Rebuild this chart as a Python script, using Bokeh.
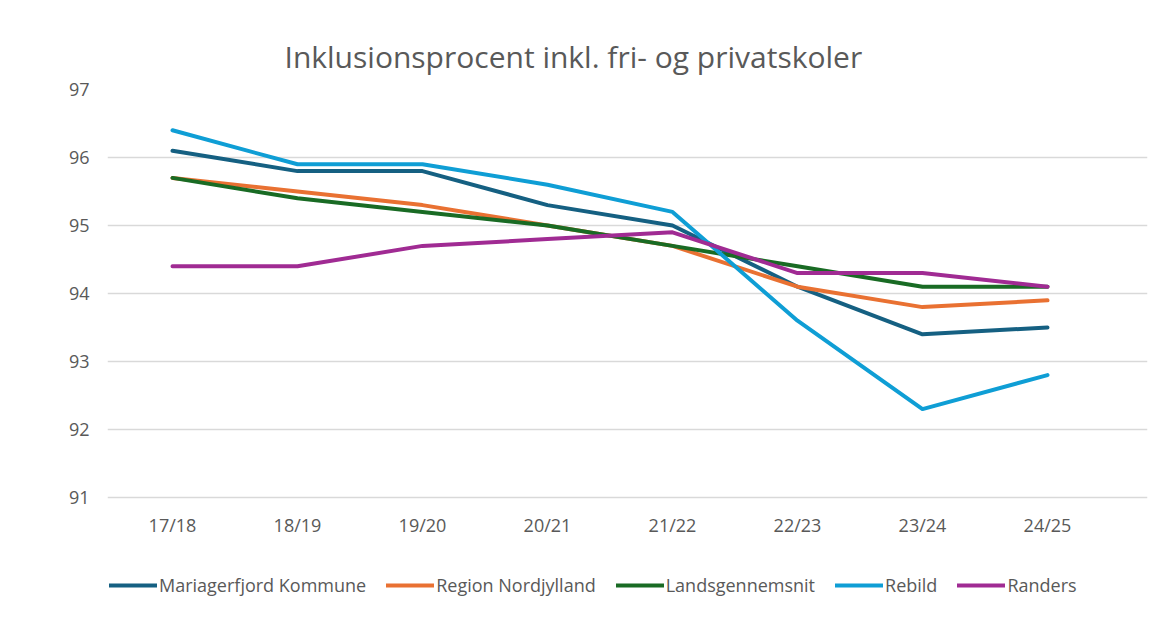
from bokeh.plotting import figure
from bokeh.models import Range1d, FixedTicker, Legend, LegendItem, Title
from bokeh.core.properties import value
from bokeh.embed import file_html
from bokeh.resources import INLINE

categories = ["17/18", "18/19", "19/20", "20/21", "21/22", "22/23", "23/24", "24/25"]
mariagerfjord = [96.1, 95.8, 95.8, 95.3, 95.0, 94.1, 93.4, 93.5]
nordjylland = [95.7, 95.5, 95.3, 95.0, 94.7, 94.1, 93.8, 93.9]
landsgennemsnit = [95.7, 95.4, 95.2, 95.0, 94.7, 94.4, 94.1, 94.1]
rebild = [96.4, 95.9, 95.9, 95.6, 95.2, 93.6, 92.3, 92.8]
randers = [94.4, 94.4, 94.7, 94.8, 94.9, 94.3, 94.3, 94.1]
y_ticks = [91, 92, 93, 94, 95, 96, 97]

series = [
    ("Mariagerfjord Kommune", mariagerfjord, "#156082"),
    ("Region Nordjylland", nordjylland, "#E97132"),
    ("Landsgennemsnit", landsgennemsnit, "#196B24"),
    ("Rebild", rebild, "#0F9ED5"),
    ("Randers", randers, "#A02B93"),
]

FONT = "Open Sans"
GREY = "#595959"

xs = list(range(len(categories)))

p = figure(frame_width=1040, frame_height=510, output_backend="svg", toolbar_location=None,
           x_range=Range1d(-0.52, 7.8), y_range=Range1d(89.5, 97),
           x_axis_location=None)
p.min_border_left = 107
p.min_border_right = 2
p.min_border_top = 89
p.min_border_bottom = 0
p.outline_line_color = None
p.background_fill_color = "white"
p.border_fill_color = "white"

p.title = Title(text="Inklusionsprocent inkl. fri- og privatskoler", align="left",
                offset=177, standoff=26,
                text_font=FONT, text_font_size="30px", text_font_style="normal",
                text_color=GREY)

items = []
for name, vals, col in series:
    r = p.line(xs, vals, line_color=col, line_width=4, line_join="round", line_cap="round")
    items.append(LegendItem(label=name, renderers=[r]))

# category labels under the plot, placed through the data scales
p.text(x=xs, y=[90.6] * len(categories), text=categories, text_align="center",
       text_baseline="middle", text_font=value(FONT), text_font_size="18px",
       text_color=GREY)

p.yaxis.ticker = FixedTicker(ticks=y_ticks)
ax = p.yaxis[0]
ax.axis_line_color = None
ax.major_tick_line_color = None
ax.minor_tick_line_color = None
ax.major_label_text_font = FONT
ax.major_label_text_font_size = "18px"
ax.major_label_text_color = GREY
ax.major_label_standoff = 12

p.xgrid.grid_line_color = None
p.ygrid.grid_line_color = "#d9d9d9"
p.ygrid.grid_line_width = 1.5

legend = Legend(items=items, orientation="horizontal", location=(2, 2),
                label_text_font=FONT, label_text_font_size="18px", label_text_color=GREY,
                glyph_width=48, glyph_height=12, label_standoff=2, spacing=20,
                border_line_color=None, background_fill_alpha=0, margin=0, padding=4)
p.add_layout(legend, "center")

open("out.html", "w").write(file_html(p, INLINE))
